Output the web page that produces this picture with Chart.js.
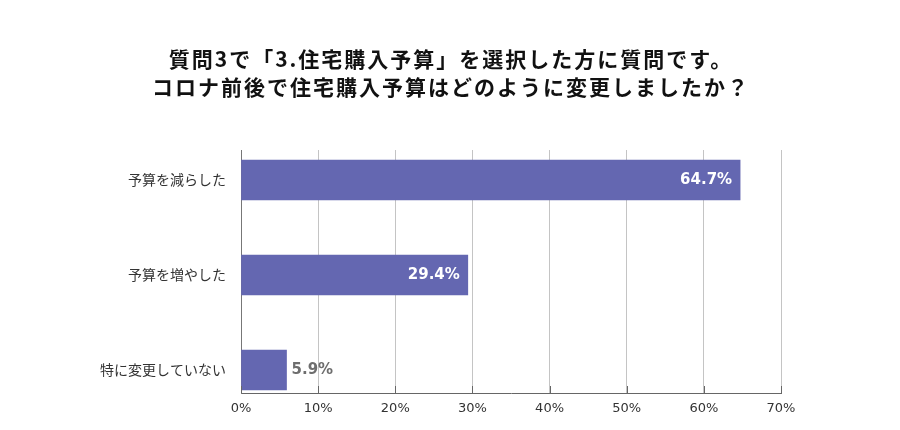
<!DOCTYPE html>
<html>
<head>
<meta charset="utf-8">
<script src="https://cdn.jsdelivr.net/npm/chart.js@4"></script>
<style>
  html, body { margin: 0; padding: 0; background: #fff; }
  #wrap { width: 900px; height: 430px; }
</style>
</head>
<body>
<div id="wrap"><canvas id="chart" width="900" height="430"></canvas></div>
<script>
const titleLines = ['質問3で「3.住宅購入予算」を選択した方に質問です。', 'コロナ前後で住宅購入予算はどのように変更しましたか？'];
const categories = ['予算を減らした', '予算を増やした', '特に変更していない'];
const values = [64.7, 29.4, 5.9];
const xTicks = [0, 10, 20, 30, 40, 50, 60, 70];

const jp = '"Noto Sans CJK JP", "Noto Sans", sans-serif';
const latin = '"DejaVu Sans", sans-serif';

// two line heading, centred on the whole canvas
const heading = {
    id: 'heading',
    afterDraw(chart) {
        const ctx = chart.ctx;
        ctx.save();
        ctx.font = 'bold 21px ' + jp;
        ctx.fillStyle = '#111111';
        ctx.textAlign = 'center';
        ctx.textBaseline = 'middle';
        if ('letterSpacing' in ctx) ctx.letterSpacing = '2px';
        ctx.fillText(titleLines[0], chart.width / 2 + 1, 59);
        ctx.fillText(titleLines[1], chart.width / 2 + 1, 87);
        ctx.restore();
    }
};

// percentage labels on the bars
const valueLabels = {
    id: 'valueLabels',
    afterDatasetsDraw(chart) {
        const ctx = chart.ctx;
        const meta = chart.getDatasetMeta(0);
        ctx.save();
        ctx.font = 'bold 15px ' + latin;
        ctx.textBaseline = 'middle';
        meta.data.forEach((bar, i) => {
            const txt = values[i].toFixed(1) + '%';
            if (values[i] >= 10) {
                ctx.fillStyle = '#ffffff';
                ctx.textAlign = 'right';
                ctx.fillText(txt, bar.x - 8, bar.y);
            } else {
                ctx.fillStyle = '#6e6e6e';
                ctx.textAlign = 'left';
                ctx.fillText(txt, bar.x + 5, bar.y);
            }
        });
        ctx.restore();
    }
};

// small tick marks sitting on the inside of the bottom axis
const innerTicks = {
    id: 'innerTicks',
    afterDraw(chart) {
        const ctx = chart.ctx;
        const xs = chart.scales.x;
        const bottom = chart.chartArea.bottom;
        ctx.save();
        ctx.strokeStyle = '#666666';
        ctx.lineWidth = 1;
        xTicks.forEach((t) => {
            const px = Math.round(xs.getPixelForValue(t)) + 0.5;
            ctx.beginPath();
            ctx.moveTo(px, bottom - 7);
            ctx.lineTo(px, bottom);
            ctx.stroke();
        });
        ctx.restore();
    }
};

new Chart(document.getElementById('chart'), {
    type: 'bar',
    data: {
        datasets: [{
            data: values.map((v, i) => ({ x: v, y: i })),
            backgroundColor: '#6467b1',
            barThickness: 40,
        }]
    },
    options: {
        indexAxis: 'y',
        responsive: false,
        animation: false,
        devicePixelRatio: 1,
        layout: { padding: { left: 0, right: 119, top: 150, bottom: 0 } },
        plugins: {
            legend: { display: false },
            tooltip: { enabled: false },
            title: { display: false }
        },
        scales: {
            x: {
                type: 'linear',
                min: 0,
                max: 70,
                afterBuildTicks(scale) {
                    scale.ticks = xTicks.map(v => ({ value: v }));
                },
                afterFit(scale) { scale.height = 37; },
                grid: { color: '#c4c4c4', lineWidth: 1, tickLength: 0 },
                border: { display: true, color: '#666666', width: 1 },
                ticks: {
                    color: '#333333',
                    padding: 8,
                    font: { family: latin, size: 13 },
                    callback: (v) => v + '%'
                }
            },
            y: {
                type: 'linear',
                reverse: true,
                offset: false,
                min: -0.316,
                max: 2.242,
                afterBuildTicks(scale) {
                    scale.ticks = categories.map((c, i) => ({ value: i }));
                },
                afterFit(scale) { scale.width = 241; },
                grid: { display: false, drawTicks: false },
                border: { display: true, color: '#777777', width: 1 },
                ticks: {
                    color: '#333333',
                    padding: 15,
                    font: { family: jp, size: 14 },
                    callback: (v) => categories[v]
                }
            }
        }
    },
    plugins: [valueLabels, innerTicks, heading]
});
</script>
</body>
</html>
